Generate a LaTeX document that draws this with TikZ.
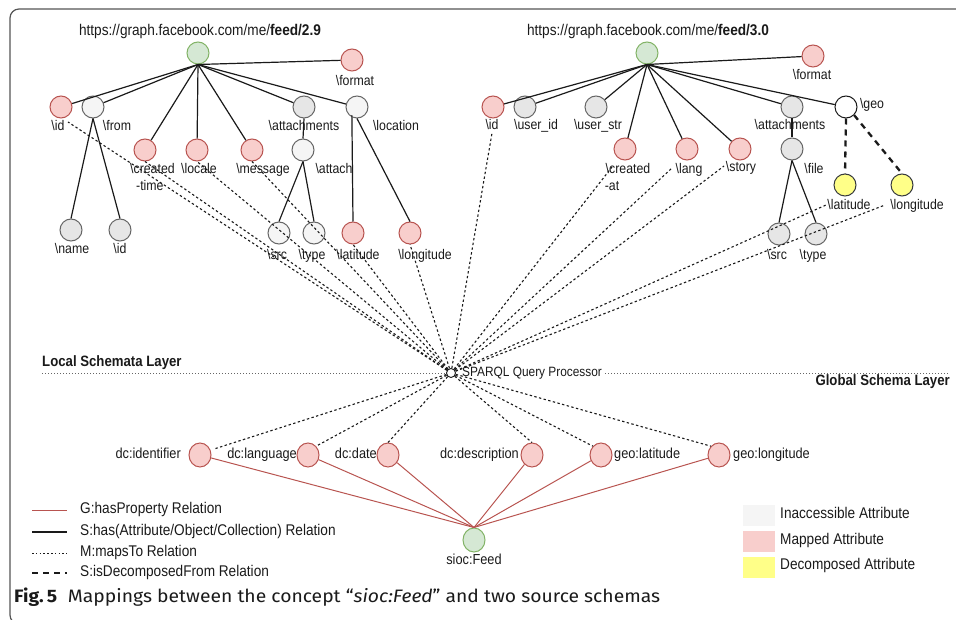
\documentclass[tikz,border=0pt]{standalone}
\usepackage{graphicx}
\usepackage{fontspec}
\setmainfont{Liberation Sans}[FakeStretch=0.88]
\newfontfamily\capfont{Fira Sans}
\usetikzlibrary{calc,shapes.geometric}

\definecolor{mapfill}{HTML}{F8CECC}
\definecolor{mapdraw}{HTML}{B85450}
\definecolor{lgfill}{HTML}{F5F5F5}
\definecolor{mgfill}{HTML}{E6E6E6}
\definecolor{gdraw}{HTML}{666666}
\definecolor{grfill}{HTML}{D5E8D4}
\definecolor{grdraw}{HTML}{82B366}
\definecolor{yfill}{HTML}{FFFF88}
\definecolor{ydraw}{HTML}{36393D}
\definecolor{framec}{HTML}{555555}
\definecolor{ink}{HTML}{1A1A1A}

\begin{document}
\begin{tikzpicture}[x=1pt,y=-1pt,
  attr/.style={circle,minimum size=22pt,inner sep=0pt,line width=1pt},
  mapped/.style={attr,fill=mapfill,draw=mapdraw},
  light/.style={attr,fill=lgfill,draw=gdraw},
  mid/.style={attr,fill=mgfill,draw=gdraw},
  decomp/.style={attr,fill=yfill,draw=ydraw},
  plain/.style={attr,fill=white,draw=ink},
  concept/.style={attr,fill=grfill,draw=grdraw},
  gattr/.style={ellipse,minimum width=22pt,minimum height=24pt,inner sep=0pt,
                line width=1pt,fill=mapfill,draw=mapdraw},
  lbl/.style={inner sep=0pt,text height=10pt,text depth=3pt,
              font=\fontsize{14}{16}\selectfont,text=ink},
  url/.style={lbl,font=\fontsize{15.5}{17}\selectfont},
  glbl/.style={lbl,font=\fontsize{14.5}{16}\selectfont},
  layer/.style={lbl,font=\bfseries\fontsize{15}{17}\selectfont},
  leg/.style={lbl,anchor=west,font=\fontsize{15.5}{17}\selectfont},
  has/.style={draw=ink,line width=1.2pt},
  maps/.style={draw=ink,line width=1.1pt,dash pattern=on 2.4pt off 2.4pt},
  decomposed/.style={draw=ink,line width=2.3pt,dash pattern=on 6pt off 5pt},
  prop/.style={draw=mapdraw,line width=1pt},
  hubnode/.style={circle,minimum size=9pt,inner sep=0pt,line width=0.9pt,
                  fill=white,draw=ink}]

\useasboundingbox (0,0) rectangle (956,620);
\clip (0,0) rectangle (956,620);

% outer frame
\draw[framec,line width=1.2pt,rounded corners=9pt] (10,9) rectangle (990,624);

% ---------------- feed 2.9 ----------------
\node[url] (a-url) at (200,32) {https://graph.facebook.com/me/\textbf{feed/2.9}};
\node[concept] (a-root) at (198,53) {};
\node[mapped] (a-format) at (352,60) {};
\node[lbl] (a-format-l) at (355,82) {\textbackslash format};
\node[mapped] (a-id) at (61,107) {};
\node[lbl] (a-id-l) at (58,127) {\textbackslash id};
\node[light] (a-from) at (93,107) {};
\node[lbl] (a-from-l) at (117,127) {\textbackslash from};
\node[mapped] (a-created) at (145,150) {};
\node[lbl,anchor=west] (a-created-l) at (130,170) {\textbackslash created};
\node[lbl,anchor=west] (a-created-l2) at (136,187) {-time};
\node[mapped] (a-locale) at (197,150) {};
\node[lbl] (a-locale-l) at (199,170) {\textbackslash locale};
\node[mapped] (a-message) at (252,150) {};
\node[lbl] (a-message-l) at (263,170) {\textbackslash message};
\node[mid] (a-att) at (304,107) {};
\node[lbl] (a-att-l) at (304,127) {\textbackslash attachments};
\node[light] (a-attach) at (303,150) {};
\node[lbl] (a-attach-l) at (334,170) {\textbackslash attach};
\node[light] (a-loc) at (357,107) {};
\node[lbl] (a-loc-l) at (396,127) {\textbackslash location};
\node[mid] (a-name) at (71,230) {};
\node[lbl] (a-name-l) at (72,250) {\textbackslash name};
\node[mid] (a-id2) at (120,230) {};
\node[lbl] (a-id2-l) at (120,250) {\textbackslash id};
\node[light] (a-src) at (279,233) {};
\node[lbl] (a-src-l) at (277,256) {\textbackslash src};
\node[light] (a-type) at (314,233) {};
\node[lbl] (a-type-l) at (312,256) {\textbackslash type};
\node[mapped] (a-lat) at (353,233) {};
\node[lbl] (a-lat-l) at (358,256) {\textbackslash latitude};
\node[mapped] (a-lon) at (410,233) {};
\node[lbl] (a-lon-l) at (425,256) {\textbackslash longitude};

\foreach \t in {a-format,a-id,a-from,a-created,a-locale,a-message,a-att,a-loc}
  \draw[has] (a-root.south) -- (\t);
\draw[has] (a-from.south) -- (a-name.north);
\draw[has] (a-from.south) -- (a-id2.north);
\draw[has] (a-att.south) -- (a-attach.north);
\draw[has] (a-attach.south) -- (a-src.north);
\draw[has] (a-attach.south) -- (a-type.north);
\draw[has] (a-loc.south west) ++(3,0) coordinate (a-loc-b1) -- (a-lat.north);
\draw[has] (a-loc.south) -- (a-lon.north);

% ---------------- feed 3.0 ----------------
\node[url] (b-url) at (648,32) {https://graph.facebook.com/me/\textbf{feed/3.0}};
\node[concept] (b-root) at (647,53) {};
\node[mapped] (b-format) at (813,56) {};
\node[lbl] (b-format-l) at (812,76) {\textbackslash format};
\node[mapped] (b-id) at (493,107) {};
\node[lbl] (b-id-l) at (492,126) {\textbackslash id};
\node[mid] (b-uid) at (525,107) {};
\node[lbl] (b-uid-l) at (536,126) {\textbackslash user\_id};
\node[mid] (b-ustr) at (596,107) {};
\node[lbl] (b-ustr-l) at (598,126) {\textbackslash user\_str};
\node[mapped] (b-created) at (625,149) {};
\node[lbl] (b-created-l) at (628,170) {\textbackslash created};
\node[lbl] (b-created-l2) at (612,187) {-at};
\node[mapped] (b-lang) at (687,149) {};
\node[lbl] (b-lang-l) at (689,170) {\textbackslash lang};
\node[mapped] (b-story) at (740,149) {};
\node[lbl] (b-story-l) at (741,168) {\textbackslash story};
\node[mid] (b-att) at (792,107) {};
\node[lbl] (b-att-l) at (790,126) {\textbackslash attachments};
\node[mid] (b-file) at (792,149) {};
\node[lbl] (b-file-l) at (814,170) {\textbackslash file};
\node[plain] (b-geo) at (846,107) {};
\node[lbl] (b-geo-l) at (872,105) {\textbackslash geo};
\node[decomp] (b-lat) at (845,185) {};
\node[lbl] (b-lat-l) at (849,206) {\textbackslash latitude};
\node[decomp] (b-lon) at (902,185) {};
\node[lbl] (b-lon-l) at (917,206) {\textbackslash longitude};
\node[mid] (b-src) at (779,234) {};
\node[lbl] (b-src-l) at (777,256) {\textbackslash src};
\node[mid] (b-type) at (816,234) {};
\node[lbl] (b-type-l) at (813,256) {\textbackslash type};

\foreach \t in {b-format,b-id,b-uid,b-ustr,b-created,b-lang,b-story,b-att,b-geo}
  \draw[has] (b-root.south) -- (\t);
\draw[has] (b-att.south) -- (b-file.north);
\draw[has] (b-file.south) -- (b-src.north);
\draw[has] (b-file.south) -- (b-type.north);
\draw[decomposed] (b-geo.south) -- (b-lat.north);
\draw[decomposed] (b-geo.south east) -- (b-lon.north);

% ---------------- layers and query processor ----------------
\node[hubnode] (hub) at (451,373) {};
\node[lbl,anchor=west,font=\fontsize{13.5}{15}\selectfont] (hub-l) at (462,373) {SPARQL Query Processor};
\node[layer,anchor=west] (local-l) at (42,363) {Local Schemata Layer};
\node[layer,anchor=east] (global-l) at (950,382) {Global Schema Layer};
\coordinate (layer-w) at (42,373);
\coordinate (layer-e) at (950,373);
\draw[gdraw,line width=1pt,dash pattern=on 1pt off 2pt] (layer-w) -- (hub.west);
\draw[gdraw,line width=1pt,dash pattern=on 1pt off 2pt] (hub-l.east) ++(3,0) -- (layer-e);

% mapsTo: local attributes to the query processor
\coordinate (ma-id) at (68,122);
\coordinate (mb-id) at (492,133);
\coordinate (mb-created) at (612,167);
\coordinate (mb-lang) at (672,168);
\coordinate (mb-story) at (724,166);
\coordinate (mb-lat) at (826,205);
\coordinate (mb-lon) at (885,205);
\foreach \t in {ma-id,a-created.south,a-locale.south,a-message.south,a-lat.south,a-lon.south,
                mb-id,mb-created,mb-lang,mb-story,mb-lat,mb-lon}
  \draw[maps] (hub) -- (\t);

% ---------------- global schema ----------------
\node[gattr] (g-id) at (200,455) {};
\node[glbl,anchor=east] (g-id-l) at (181,455) {dc:identifier};
\node[gattr] (g-lang) at (308,455) {};
\node[glbl,anchor=east] (g-lang-l) at (297,455) {dc:language};
\node[gattr] (g-date) at (388,455) {};
\node[glbl,anchor=east] (g-date-l) at (377,455) {dc:date};
\node[gattr] (g-desc) at (532,455) {};
\node[glbl,anchor=east] (g-desc-l) at (519,455) {dc:description};
\node[gattr] (g-lat) at (601,455) {};
\node[glbl,anchor=west] (g-lat-l) at (614,455) {geo:latitude};
\node[gattr] (g-lon) at (719,455) {};
\node[glbl,anchor=west] (g-lon-l) at (733,455) {geo:longitude};
\node[attr,fill=grfill,draw=grdraw,ellipse,minimum width=22pt,minimum height=24pt] (sioc) at (474,540) {};
\node[glbl] (sioc-l) at (474,561) {sioc:Feed};

\coordinate (mg-id) at (214,449);
\draw[maps] (hub) -- (mg-id);
\foreach \t in {g-lang.north east,g-date.north,g-desc.north,g-lat.north west,g-lon.north west}
  \draw[maps] (hub) -- (\t);
\foreach \t in {g-id,g-lang,g-date,g-desc,g-lat,g-lon}
  \draw[prop] (\t) -- (sioc.north);

% ---------------- legend ----------------
\draw[prop] (32,510) -- (67,510);
\node[leg] (leg-1) at (80,510) {G:hasProperty Relation};
\draw[has] (32,532) -- (67,532);
\node[leg] (leg-2) at (80,532) {S:has(Attribute/Object/Collection) Relation};
\draw[maps,line width=0.9pt,dash pattern=on 1.6pt off 2.2pt] (32,553) -- (67,553);
\node[leg] (leg-3) at (80,553) {M:mapsTo Relation};
\draw[decomposed,line width=2.2pt,dash pattern=on 6pt off 5pt] (32,573) -- (67,573);
\node[leg] (leg-4) at (80,573) {S:isDecomposedFrom Relation};

\fill[lgfill] (743,505) rectangle (775,526);
\node[leg] (key-1) at (780,515) {Inaccessible Attribute};
\fill[mapfill] (743,531) rectangle (775,552);
\node[leg] (key-2) at (780,541) {Mapped Attribute};
\fill[yfill] (743,557) rectangle (775,578);
\node[leg] (key-3) at (780,566) {Decomposed Attribute};

% caption
\node[anchor=west,inner sep=0pt,text=ink] (caption) at (14,597)
  {\resizebox{646pt}{\height}{\capfont\fontsize{18}{20}\selectfont
   \textbf{Fig.\,5}\hspace{0.55em}Mappings between the concept “\textit{sioc:Feed}” and two source schemas}};
\end{tikzpicture}
\end{document}
